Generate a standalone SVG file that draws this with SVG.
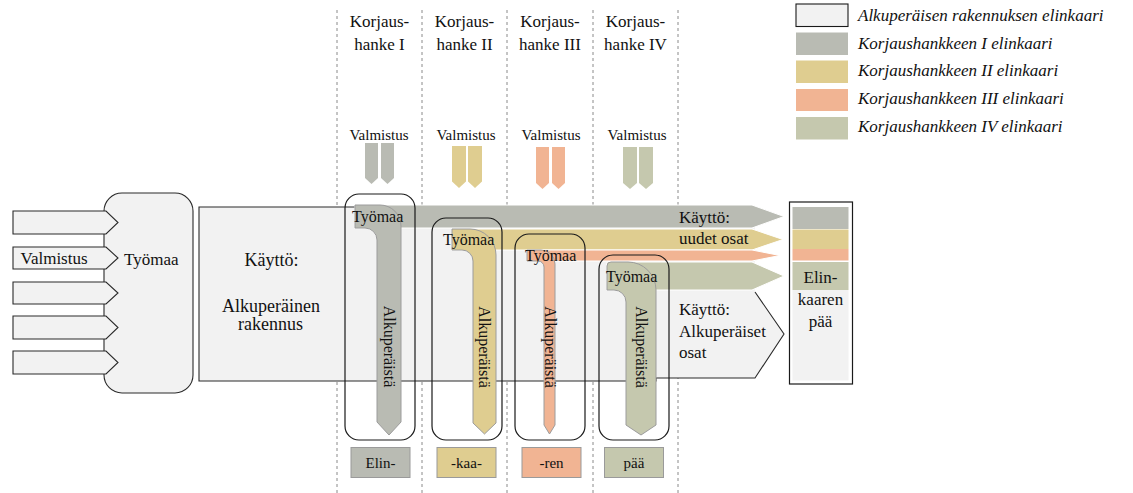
<svg xmlns="http://www.w3.org/2000/svg" width="1133" height="493" viewBox="0 0 1133 493">
<style>
text{font-family:"Liberation Serif",serif;fill:#111}
.dash{stroke:#8a8a8a;stroke-width:1;stroke-dasharray:3,3;fill:none}
.lg{fill:#f2f2f2}
.ol{stroke:#2a2a2a;stroke-width:1.1}
.box{fill:none;stroke:#1a1a1a;stroke-width:1.2}
.c1{fill:#b9bbb3}.c2{fill:#dfcd90}.c3{fill:#f1b493}.c4{fill:#c5c8ae}
.lsh{stroke:#9c9c9c;stroke-width:1}
.band{stroke:#fff;stroke-width:1}
.t17{font-size:17px}.t16{font-size:16px}.t15{font-size:15px}.t18{font-size:18px}
.it{font-size:17px;font-style:italic}
.mid{text-anchor:middle}
.lab{stroke:#9a9a9a;stroke-width:1}
</style>
<rect width="1133" height="493" fill="#fff"/>
<g id="columns">
<line class="dash" x1="337" y1="10" x2="337" y2="493"/>
<line class="dash" x1="422" y1="10" x2="422" y2="493"/>
<line class="dash" x1="507" y1="10" x2="507" y2="493"/>
<line class="dash" x1="593" y1="10" x2="593" y2="493"/>
<line class="dash" x1="678" y1="10" x2="678" y2="493"/>
</g>
<g id="headers">
<text class="t17 mid" x="379.5" y="27">Korjaus-</text><text class="t17 mid" x="379.5" y="50">hanke I</text>
<text class="t17 mid" x="464.5" y="27">Korjaus-</text><text class="t17 mid" x="464.5" y="50">hanke II</text>
<text class="t17 mid" x="550" y="27">Korjaus-</text><text class="t17 mid" x="550" y="50">hanke III</text>
<text class="t17 mid" x="635.5" y="27">Korjaus-</text><text class="t17 mid" x="635.5" y="50">hanke IV</text>
</g>
<g id="prefab">
<text class="t15 mid" x="379" y="140">Valmistus</text>
<text class="t15 mid" x="466" y="140">Valmistus</text>
<text class="t15 mid" x="551" y="140">Valmistus</text>
<text class="t15 mid" x="637" y="140">Valmistus</text>
<polygon class="c1" points="365,143 378,143 378,178 371.5,184 365,178"/>
<polygon class="c1" points="381,143 394,143 394,178 387.5,184 381,178"/>
<polygon class="c2" points="452,146 466,146 466,181.5 459,188 452,181.5"/>
<polygon class="c2" points="468,146 482,146 482,181.5 475,188 468,181.5"/>
<polygon class="c3" points="536,147 549,147 549,183 542.5,189 536,183"/>
<polygon class="c3" points="552,147 565,147 565,183 558.5,189 552,183"/>
<polygon class="c4" points="623,147 637,147 637,183 630,189 623,183"/>
<polygon class="c4" points="639,147 653,147 653,183 646,189 639,183"/>
</g>
<g id="origin">
<rect class="lg ol" x="104" y="193" width="89" height="200" rx="18"/>
<polygon class="lg ol" points="13,211 106,211 118,222.5 106,234 13,234"/>
<polygon class="lg ol" points="13,247 106,247 118,258 106,269 13,269"/>
<polygon class="lg ol" points="13,282 106,282 118,293 106,304 13,304"/>
<polygon class="lg ol" points="13,316 106,316 118,327.5 106,339 13,339"/>
<polygon class="lg ol" points="13,351 106,351 118,362.5 106,374 13,374"/>
<text class="t17" x="20.5" y="264">Valmistus</text>
<text class="t17" x="124" y="265">Työmaa</text>
</g>
<g id="use-original">
<polygon class="lg" points="199,207 755,207 755,292 784,334 755,378 656,378 656,381 199,381"/>
<path fill="none" class="ol" d="M356,207 H199 V381 H656 V378 H755 L784,334 L755,292"/>
<text class="t18 mid" x="271.5" y="266">Käyttö:</text>
<text class="t18 mid" x="271" y="311.5">Alkuperäinen</text>
<text class="t18 mid" x="270.5" y="330">rakennus</text>
<text class="t17" x="679" y="315">Käyttö:</text>
<text class="t17" x="679" y="336.5">Alkuperäiset</text>
<text class="t17" x="679" y="357.5">osat</text>
</g>
<g id="bands">
<polygon class="c1 band" points="355,205 752,205 784,216.5 752,228 355,228"/>
<polygon class="c2 band" points="452,229 752,229 783,239.5 752,250 452,250"/>
<polygon class="c3 band" points="527,250 752,250 780,255.5 752,261 527,261"/>
<polygon class="c4 band" points="607,262 752,262 784,276 752,290 607,290"/>
<text class="t17" x="679" y="223">Käyttö:</text>
<text class="t17" x="679" y="244">uudet osat</text>
</g>
<g id="project1">
<path class="c1 lsh" d="M355,205 H380 A21,21 0 0 1 401,226 V422 L389,435 L377,422 V240 A12,12 0 0 0 365,228 H355 Z"/>
<text class="t16" x="352" y="222">Työmaa</text>
<text class="t16 mid" transform="translate(389,346.5) rotate(90)" dy="0.33em">Alkuperäistä</text>
<rect class="box" x="345" y="194" width="70" height="246" rx="14"/>
<rect class="c1 lab" x="351" y="447.5" width="59" height="30"/>
<text class="t15 mid" x="380.5" y="468">Elin-</text>
</g>
<g id="project2">
<path class="c2 lsh" d="M452,229 H470 A26,26 0 0 1 496,255 V423 L484.5,434 L473,423 V261 A11,11 0 0 0 462,250 H452 Z"/>
<text class="t16" x="443" y="245">Työmaa</text>
<text class="t16 mid" transform="translate(484.5,347) rotate(90)" dy="0.33em">Alkuperäistä</text>
<rect class="box" x="432" y="218" width="70" height="222" rx="14"/>
<rect class="c2 lab" x="437" y="447.5" width="59" height="30"/>
<text class="t15 mid" x="466.5" y="468">-kaa-</text>
</g>
<g id="project3">
<path class="c3 lsh" d="M527,250 H541 A14,14 0 0 1 555,264 V425 L549.5,434 L544,425 V267 A6,6 0 0 0 538,261 H527 Z"/>
<text class="t16" x="525" y="261">Työmaa</text>
<text class="t16 mid" transform="translate(550,347) rotate(90)" dy="0.33em">Alkuperäistä</text>
<rect class="box" x="515" y="234" width="70" height="206" rx="14"/>
<rect class="c3 lab" x="522" y="447.5" width="59" height="30"/>
<text class="t15 mid" x="551.5" y="468">-ren</text>
</g>
<g id="project4">
<path class="c4 lsh" d="M611,262 H628 A28,28 0 0 1 656,290 V425 L641,435 L626,425 V302 A12,12 0 0 0 614,290 H607 V266 A4,4 0 0 1 611,262 Z"/>
<text class="t16" x="606" y="282">Työmaa</text>
<text class="t16 mid" transform="translate(641,347) rotate(90)" dy="0.33em">Alkuperäistä</text>
<rect class="box" x="599" y="255" width="70" height="185" rx="14"/>
<rect class="c4 lab" x="604.5" y="447.5" width="59" height="30"/>
<text class="t15 mid" x="634" y="468">pää</text>
</g>
<g id="end-of-life">
<rect x="789.5" y="202" width="63" height="182" fill="#fff" stroke="#1a1a1a" stroke-width="1.2"/>
<rect class="c1" x="792.5" y="207" width="56" height="22"/>
<rect class="c2" x="792.5" y="229.5" width="56" height="19.5"/>
<rect class="c3" x="792.5" y="249" width="56" height="11.5"/>
<rect class="c4" x="792.5" y="262" width="56" height="28"/>
<rect class="lg" x="792.5" y="290" width="56" height="90.5"/>
<text class="t17 mid" x="820.5" y="282.5">Elin-</text>
<text class="t17 mid" x="820.5" y="305">kaaren</text>
<text class="t17 mid" x="820.5" y="326.5">pää</text>
</g>
<g id="legend">
<rect class="lg" x="796" y="4" width="52" height="22.5" stroke="#1a1a1a" stroke-width="1.1"/>
<rect class="c1" x="796" y="32.5" width="52" height="22.5"/>
<rect class="c2" x="796" y="60.5" width="52" height="22.5"/>
<rect class="c3" x="796" y="89" width="52" height="22"/>
<rect class="c4" x="796" y="117" width="52" height="22.5"/>
<text class="it" x="858" y="21">Alkuperäisen rakennuksen elinkaari</text>
<text class="it" x="858" y="48.5">Korjaushankkeen I elinkaari</text>
<text class="it" x="858" y="76">Korjaushankkeen II elinkaari</text>
<text class="it" x="858" y="104">Korjaushankkeen III elinkaari</text>
<text class="it" x="858" y="131.5">Korjaushankkeen IV elinkaari</text>
</g>
</svg>
